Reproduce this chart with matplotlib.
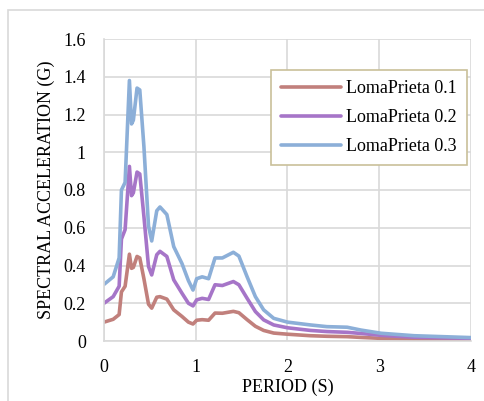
import matplotlib
matplotlib.use("Agg")
import matplotlib.pyplot as plt
from matplotlib.patches import Rectangle

# Spectral acceleration vs. period for three Loma Prieta scalings
period = [0, 0.10, 0.165, 0.19, 0.23, 0.277, 0.30, 0.32, 0.36, 0.39, 0.435,
          0.485, 0.52, 0.575, 0.61, 0.685, 0.76, 0.85, 0.92, 0.97, 1.01, 1.07,
          1.14, 1.21, 1.29, 1.41, 1.47, 1.56, 1.65, 1.74, 1.85, 2.0, 2.25,
          2.43, 2.65, 2.80, 3.02, 3.38, 4.0]
sa_01 = [0.10, 0.115, 0.14, 0.26, 0.29, 0.46, 0.385, 0.39, 0.448, 0.44, 0.33,
         0.195, 0.174, 0.232, 0.235, 0.222, 0.165, 0.13, 0.10, 0.09, 0.11,
         0.113, 0.11, 0.148, 0.147, 0.157, 0.15, 0.113, 0.078, 0.056, 0.042,
         0.036, 0.028, 0.025, 0.023, 0.019, 0.014, 0.01, 0.008]
sa_02 = [0.20, 0.235, 0.29, 0.54, 0.59, 0.925, 0.77, 0.785, 0.895, 0.885,
         0.66, 0.395, 0.35, 0.457, 0.475, 0.448, 0.324, 0.253, 0.20, 0.186,
         0.218, 0.226, 0.22, 0.298, 0.294, 0.315, 0.298, 0.226, 0.156, 0.112,
         0.085, 0.07, 0.056, 0.05, 0.046, 0.04, 0.03, 0.02, 0.014]
sa_03 = [0.30, 0.34, 0.44, 0.80, 0.84, 1.38, 1.15, 1.17, 1.34, 1.33, 1.03,
         0.61, 0.53, 0.69, 0.71, 0.67, 0.50, 0.41, 0.32, 0.27, 0.33, 0.34,
         0.33, 0.44, 0.44, 0.47, 0.45, 0.34, 0.235, 0.165, 0.12, 0.10, 0.085,
         0.076, 0.073, 0.058, 0.041, 0.028, 0.018]
labels = ["LomaPrieta 0.1", "LomaPrieta 0.2", "LomaPrieta 0.3"]
colors = ["#C1807C", "#A675C8", "#8CAFD8"]

plt.rcParams["font.family"] = "Liberation Serif"
plt.rcParams["font.size"] = 13

fig = plt.figure(figsize=(4.85, 4.01), dpi=100)
# chart area border (runs off the right and bottom edges)
fig.patches.append(Rectangle((8 / 485, -0.1), 1.2, 1 - 10 / 401 + 0.1,
                             transform=fig.transFigure, fill=False,
                             edgecolor="#D9D9D9", linewidth=1.2))

ax = fig.add_axes([104 / 485, 1 - 341 / 401, (471 - 104) / 485, (341 - 39) / 401])
for y, lab, c in zip([sa_01, sa_02, sa_03], labels, colors):
    ax.plot(period, y, color=c, linewidth=2.6, label=lab,
            solid_joinstyle="round", solid_capstyle="round")

ax.set_xlim(0, 4)
ax.set_ylim(0, 1.6)
ax.set_xticks([0, 1, 2, 3, 4])
ax.set_yticks([0, 0.2, 0.4, 0.6, 0.8, 1.0, 1.2, 1.4, 1.6])
ax.set_yticklabels(["0", "0.2", "0.4", "0.6", "0.8", "1", "1.2", "1.4", "1.6"])
ax.grid(True, color="#D9D9D9", linewidth=1.2)
ax.set_axisbelow(True)
for s in ["top", "right"]:
    ax.spines[s].set_visible(False)
for s in ["left", "bottom"]:
    ax.spines[s].set_color("#D9D9D9")
    ax.spines[s].set_linewidth(1.2)
ax.tick_params(axis="x", length=0, pad=13)
ax.tick_params(axis="y", length=0, pad=13)
ax.set_xlabel("PERIOD (S)", labelpad=2)
ax.set_ylabel("SPECTRAL ACCELERATION (G)", labelpad=6)

leg = ax.legend(loc="upper right", bbox_to_anchor=(467 / 485, 1 - 70 / 401),
                bbox_transform=fig.transFigure, fancybox=False,
                edgecolor="#C9C09A", framealpha=1, handlelength=3.3,
                handletextpad=0.3, labelspacing=0.68, borderpad=0.55,
                borderaxespad=0)
leg.get_frame().set_linewidth(1.2)

fig.savefig("out.png", dpi=100)
